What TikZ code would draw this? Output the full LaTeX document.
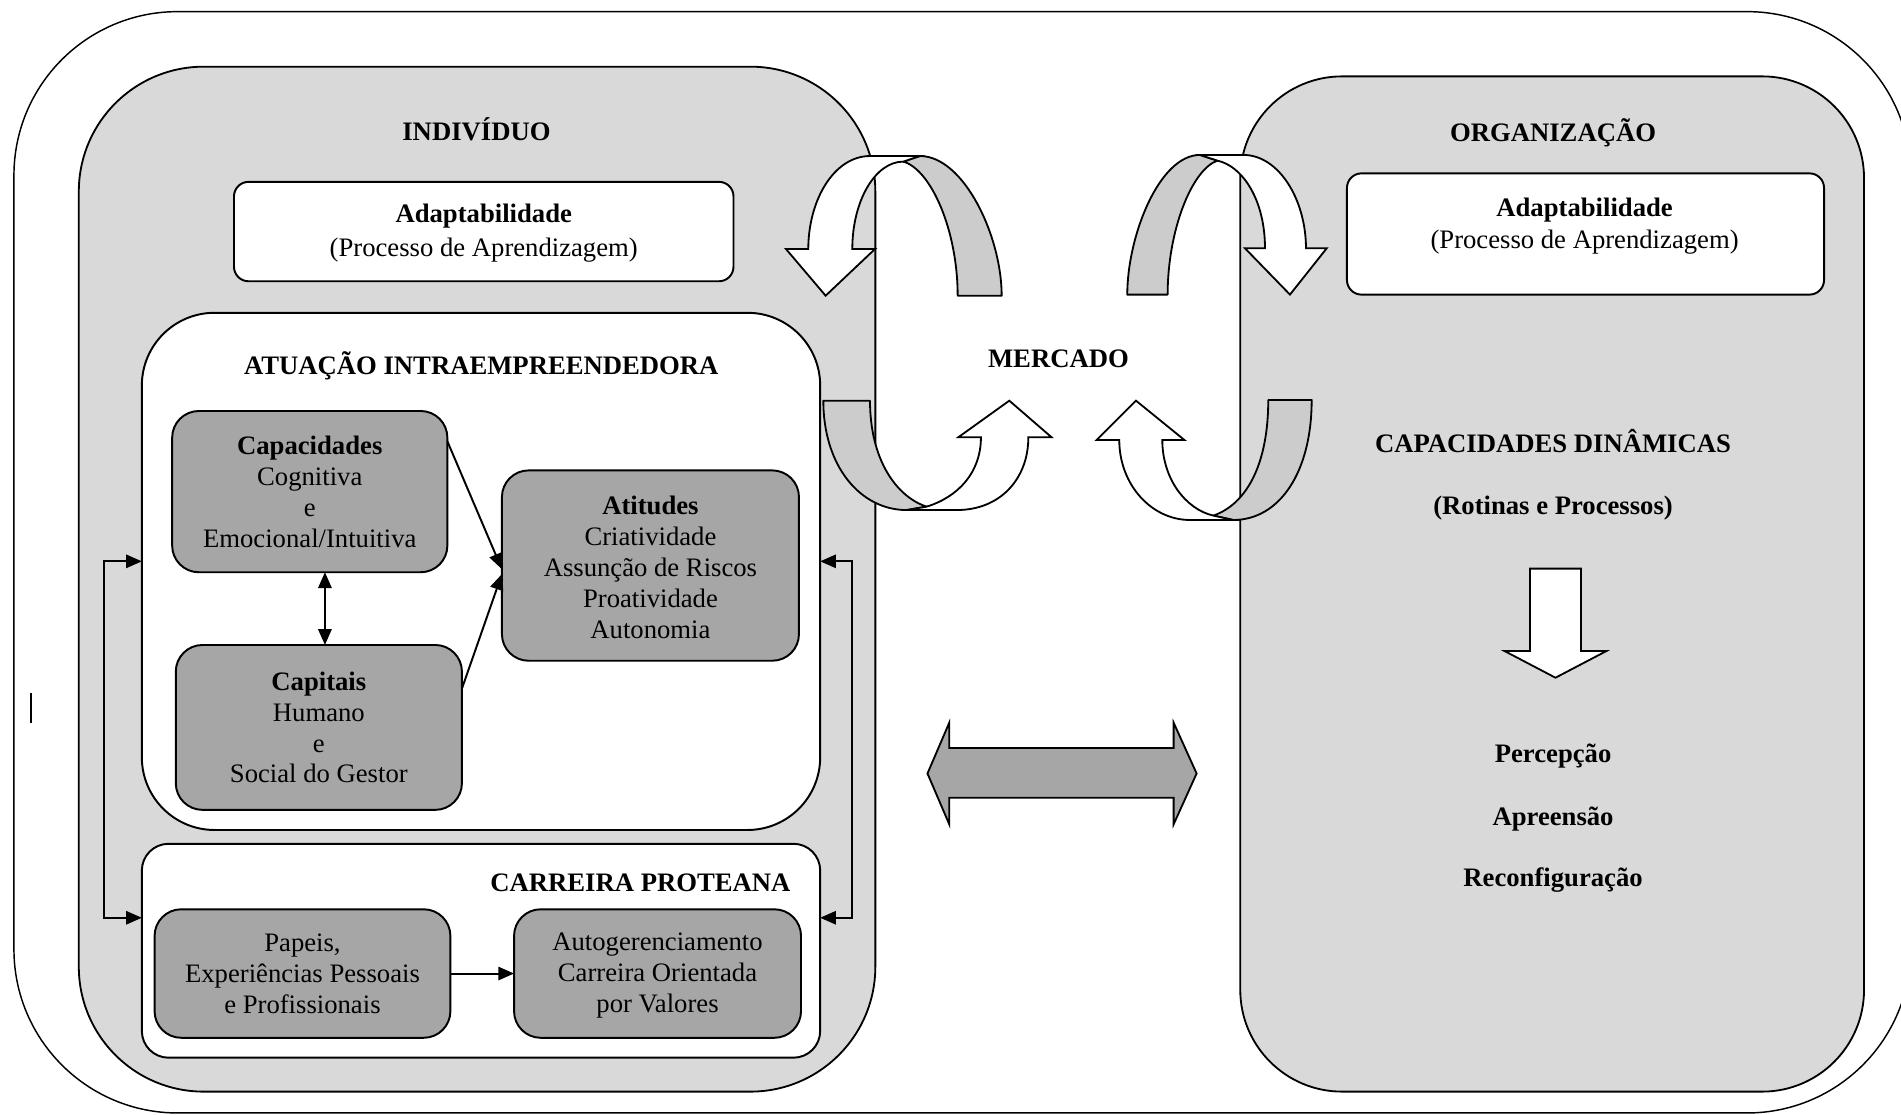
\documentclass[tikz,border=0pt]{standalone}
\usepackage{fontspec}
\setmainfont{Liberation Serif}
\usetikzlibrary{arrows.meta,calc}
\definecolor{panelgray}{HTML}{D9D9D9}
\definecolor{boxgray}{HTML}{A6A6A6}
\definecolor{bandgray}{HTML}{CCCCCC}
\begin{document}
\begin{tikzpicture}[x=0.5pt,y=-0.5pt,
  every node/.style={font=\fontsize{11}{12.75}\selectfont, inner sep=0pt, outer sep=0pt},
  panel/.style={draw, fill=panelgray, line width=0.75pt, rectangle},
  whitebox/.style={draw, fill=white, line width=0.8pt, rectangle, align=center},
  graybox/.style={draw, fill=boxgray, line width=0.8pt, rectangle, rounded corners=11pt, align=center},
  title/.style={font=\fontsize{11}{12.75}\selectfont\bfseries, anchor=base},
  conn/.style={line width=0.8pt, -{Triangle[length=6.5pt,width=5.5pt]}},
  dconn/.style={line width=0.8pt, {Triangle[length=6.5pt,width=5.5pt]}-{Triangle[length=6.5pt,width=5.5pt]}},
  band/.style={draw, fill=bandgray, line width=0.75pt, line join=round},
  warrow/.style={draw, fill=white, line width=0.75pt, line join=miter},
  garrow/.style={draw, fill=boxgray, line width=0.75pt, line join=miter}
]
\useasboundingbox (0,0) rectangle (1568,919);

% outer frame
\draw[line width=0.6pt, rounded corners=67.5pt] (11.5,9.6) rectangle (1576,918);
\draw[line width=0.8pt] (25.5,572) -- (25.5,596);

% panels
\node[panel, rounded corners=51.5pt, minimum width=328.5pt, minimum height=422.7pt] (indiv) at (393.5,477.7) {};
\node[panel, rounded corners=42pt, minimum width=257.25pt, minimum height=418.7pt] (org) at (1280.25,481.7) {};

% left panel contents
\node[title] (indivt) at (393,116) {INDIVÍDUO};
\node[whitebox, rounded corners=6pt, minimum width=206pt, minimum height=41pt] (adL) at (399,191) {};
\node[align=center, font=\fontsize{11}{14}\selectfont] (adLt) at (399,192)
  {\textbf{Adaptabilidade}\\(Processo de Aprendizagem)};
\node[whitebox, rounded corners=30pt, minimum width=279.75pt, minimum height=213.3pt] (atu) at (396.75,471.3) {};
\node[title] (atut) at (397,309) {ATUAÇÃO INTRAEMPREENDEDORA};
\node[whitebox, rounded corners=11pt, minimum width=279.75pt, minimum height=88.2pt] (car) at (396.75,784.2) {};
\node[title, anchor=base east] (cart) at (652,735.5) {CARREIRA PROTEANA};

\node[graybox, minimum width=113.5pt, minimum height=66.5pt] (cap) at (255.5,405.5)
  {\textbf{Capacidades}\\Cognitiva\\e\\Emocional/Intuitiva};
\node[graybox, minimum width=118pt, minimum height=68pt] (capit) at (263,600)
  {\textbf{Capitais}\\Humano\\e\\Social do Gestor};
\node[graybox, minimum width=122.5pt, minimum height=78.5pt] (atit) at (536.5,466.5) {};
\node[align=center] (atitt) at (536.5,468)
  {\textbf{Atitudes}\\Criatividade\\Assunção de Riscos\\Proatividade\\Autonomia};
\node[graybox, minimum width=122pt, minimum height=53pt] (pap) at (249.5,803)
  {Papeis,\\Experiências Pessoais\\e Profissionais};
\node[graybox, minimum width=118.35pt, minimum height=53pt] (auto) at (542.35,803) {};
\node[align=center] (autot) at (542.35,804.5)
  {Autogerenciamento\\Carreira Orientada\\por Valores};

\draw[conn] ($(cap.north east)+(0,25)$) -- ($(atit.west)+(0,3)$);
\draw[conn] ($(capit.north east)+(0,36)$) -- ($(atit.west)+(0,7)$);
\draw[dconn] (cap.south -| 268,0) -- (capit.north -| 268,0);
\draw[conn] (pap.east) -- (auto.west);
\draw[dconn] (atu.west |- 0,463) -- ++(-31,0) |- (car.west |- 0,757);
\draw[dconn] (atu.east |- 0,463) -- ++(26.5,0) |- (car.east |- 0,757);

% right panel contents
\node[title] (orgt) at (1281,117) {ORGANIZAÇÃO};
\node[whitebox, rounded corners=6pt, minimum width=196.75pt, minimum height=50pt] (adR) at (1307.75,193) {};
\node[align=center, font=\fontsize{11}{13.5}\selectfont] (adRt) at (1307,186.5) {\textbf{Adaptabilidade}\\(Processo de Aprendizagem)};
\node[title] (cdin) at (1281,373) {CAPACIDADES DINÂMICAS};
\node[title] (rot) at (1281,424) {(Rotinas e Processos)};
\node[title] (perc) at (1281,629) {Percepção};
\node[title] (apre) at (1281,681) {Apreensão};
\node[title] (reco) at (1281,731) {Reconfiguração};
\draw[warrow] (1262,469) -- (1304,469) -- (1304,537) -- (1325,537) -- (1283,559) -- (1241,537) -- (1262,537) -- cycle;

% market
\node[title] (merc) at (873,303) {MERCADO};
\draw[garrow] (765,638) -- (783,596) -- (783,617) -- (968,617) -- (968,596) -- (987,638)
  -- (968,680) -- (968,658) -- (783,658) -- (783,680) -- cycle;

% top-left curved arrow
\draw[band] (745.1,133.3) .. controls (768,140) and (789.9,190) .. (789.9,243.9)
  -- (826.2,243.9) .. controls (826.2,195) and (795,128.7) .. (758.8,128.7) -- cycle;
\draw[warrow] (681,243.9) -- (721.7,205.4) -- (703,205.4)
  .. controls (703,165.7) and (721.9,133.3) .. (745.1,133.3) -- (758.8,128.7) -- (717.6,128.7)
  .. controls (688,128.7) and (666.7,165) .. (666.7,205.4) -- (648.3,205.4) -- cycle;

% top-right curved arrow
\draw[band] (1004.1,132.5) .. controls (983,140) and (963.1,190) .. (963.1,243)
  -- (929.8,243) .. controls (929.8,195) and (956,127.8) .. (989.8,127.8) -- cycle;
\draw[warrow] (1064,243) -- (1094.3,204.8) -- (1077.2,204.8)
  .. controls (1077.2,165) and (1055,127.8) .. (1025.5,127.8) -- (989.8,127.8) -- (1004.1,132.5)
  .. controls (1025,137) and (1043.4,165) .. (1043.4,204.8) -- (1026.9,204.8) -- cycle;

% bottom-left curved arrow
\draw[band] (717.6,330.5) .. controls (717.6,380) and (740,410) .. (764.3,417.9)
  -- (747.8,420.7) .. controls (710,420.7) and (679.1,385) .. (679.1,330.5) -- cycle;
\draw[warrow] (832.5,330.5) -- (867.4,360.7) -- (848.2,360.7)
  .. controls (848.2,395) and (825,420.7) .. (789.1,420.7) -- (747.8,420.7) -- (764.3,417.9)
  .. controls (790,410) and (809.1,390) .. (809.1,360.7) -- (790.4,360.7) -- cycle;

% bottom-right curved arrow
\draw[band] (1000.8,425.3) .. controls (1030,415) and (1046.1,380) .. (1046.1,329.9)
  -- (1081.9,329.9) .. controls (1081.9,390) and (1055,428.9) .. (1017.3,428.9) -- cycle;
\draw[warrow] (937,330.5) -- (976.9,362.9) -- (958.7,362.9)
  .. controls (958.7,395) and (978,420) .. (1000.8,425.3) -- (1017.3,428.9) -- (981.5,428.9)
  .. controls (950,428.9) and (923.2,400) .. (923.2,362.9) -- (904.5,362.9) -- cycle;
\end{tikzpicture}
\end{document}
